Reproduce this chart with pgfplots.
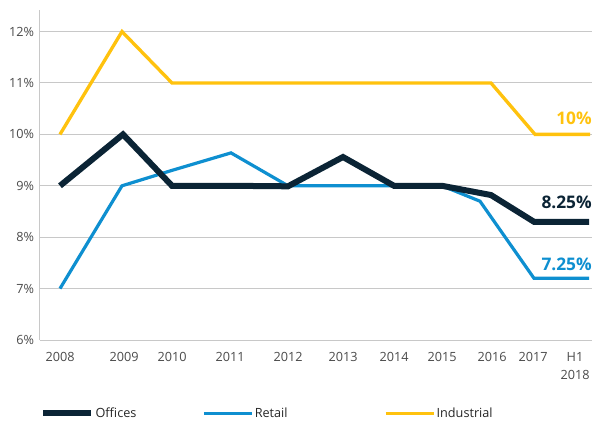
\documentclass[border=0pt]{standalone}
\usepackage{pgfplots}
\pgfplotsset{compat=1.18}
\usepackage{fontspec}
\setmainfont{Open Sans}
\definecolor{offc}{HTML}{0B2435}
\definecolor{retc}{HTML}{0E8FD0}
\definecolor{indc}{HTML}{FFC20E}
\definecolor{gridc}{HTML}{C8C8C8}
\definecolor{txtc}{HTML}{4A4A4A}
\begin{document}
\begin{tikzpicture}
\begin{axis}[
  at={(0,0)}, anchor=south west,
  scale only axis, width=414pt, height=247.5pt,
  xmin=40, xmax=592, ymin=6, ymax=12.42,
  axis lines*=left,
  axis line style={gridc, line width=0.75pt},
  ytick={6,7,...,12},
  yticklabel={\pgfmathprintnumber{\tick}\%},
  xtick={60,124,172,230,288,343,394,442,492,533,575},
  xticklabels={2008,2009,2010,2011,2012,2013,2014,2015,2016,2017,{H1\\2018}},
  xticklabel style={align=center, yshift=-6pt},
  yticklabel style={xshift=-1pt},
  ymajorgrids, grid style={gridc, line width=0.75pt},
  major tick length=0pt,
  tick label style={font=\fontsize{9.5}{13.5}\selectfont, text=txtc},
  /pgf/number format/assume math mode=true,
  clip=false,
  legend columns=3,
  legend style={at={(0,0)}, anchor=west, yshift=-55pt, draw=none, fill=none,
    inner sep=0pt, font=\fontsize{9.5}{11}\selectfont,
    nodes={inner sep=0pt, text=black!85},
    /tikz/every odd column/.append style={column sep=1pt}},
  legend image code/.code={\draw[#1, line cap=butt] (0pt,0pt) -- (36pt,0pt);},
]
\addplot[forget plot, indc, line width=2.5pt, line join=miter] coordinates {
 (60,10) (122,12) (172,11) (230,11) (288,11) (343,11) (394,11) (442,11) (491,11) (535,10) (590,10)};
\addplot[forget plot, retc, line width=2.4pt] coordinates {
 (60,7) (122,9) (172,9.3) (231,9.64) (288,9) (343,9) (394,9) (442,9) (480,8.7) (534,7.2) (589,7.2)};
\addplot[forget plot, offc, line width=4.5pt, line join=miter] coordinates {
 (60,9) (123,10) (172,9) (230,9) (288,8.99) (343,9.56) (394,9) (442,9) (491,8.82) (534,8.3) (589,8.3)};
\addlegendimage{offc, line width=4.5pt}
\addlegendentry{\makebox[80pt][l]{Offices}}
\addlegendimage{retc, line width=2.4pt}
\addlegendentry{\makebox[97pt][l]{Retail}}
\addlegendimage{indc, line width=2.4pt}
\addlegendentry{Industrial}
\node[anchor=east, inner sep=0pt, text=indc, font=\fontsize{13}{15}\selectfont\bfseries] at (axis cs:592,10.32) {10\%};
\node[anchor=east, inner sep=0pt, text=offc, font=\fontsize{13}{15}\selectfont\bfseries] at (axis cs:592,8.67) {8.25\%};
\node[anchor=east, inner sep=0pt, text=retc, font=\fontsize{13}{15}\selectfont\bfseries] at (axis cs:592,7.48) {7.25\%};
\end{axis}
\pgfresetboundingbox
\path (-30pt,-60.75pt) rectangle (414pt,255pt);
\end{tikzpicture}
\end{document}
